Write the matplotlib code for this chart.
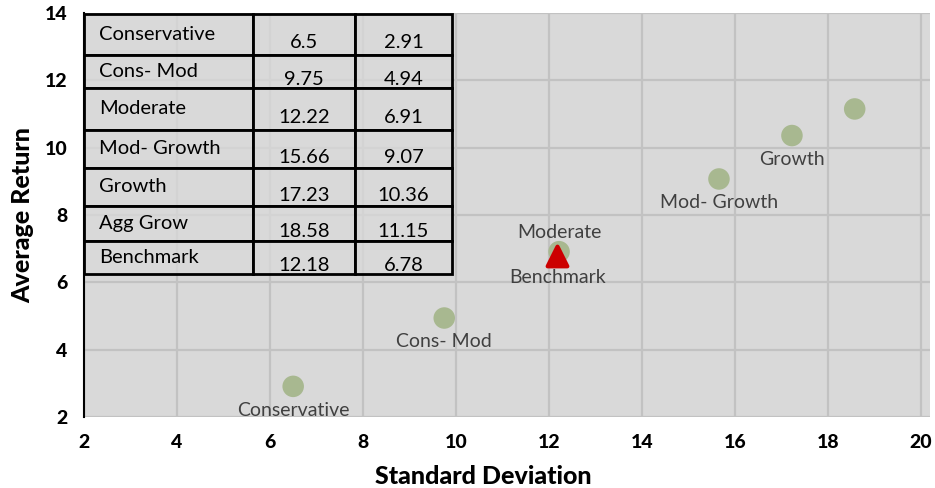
import matplotlib.pyplot as plt
import numpy as np

# portfolio data (std dev, average return)
names = ['Conservative', 'Cons- Mod', 'Moderate', 'Mod- Growth', 'Growth', 'Agg Grow']
std_dev = [6.5, 9.75, 12.22, 15.66, 17.23, 18.58]
avg_return = [2.91, 4.94, 6.91, 9.07, 10.36, 11.15]
bench_name = 'Benchmark'
bench_std = 12.18
bench_ret = 6.78

table_std = ['6.5', '9.75', '12.22', '15.66', '17.23', '18.58', '12.18']
table_ret = ['2.91', '4.94', '6.91', '9.07', '10.36', '11.15', '6.78']

# label position for each point: below / above / none
label_pos = ['below', 'below', 'above', 'below', 'below', None]

plt.rcParams['font.family'] = ['Lato', 'DejaVu Sans']

fig = plt.figure(figsize=(9.35, 4.88), dpi=100)
ax = fig.add_axes([84 / 935, 1 - 417 / 488, 846 / 935, 404 / 488])
ax.set_facecolor('#d9d9d9')
fig.patch.set_facecolor('white')

ax.set_xlim(2, 20.2)
ax.set_ylim(2, 14)
ax.set_xticks(np.arange(2, 21, 2))
ax.set_yticks(np.arange(2, 15, 2))
ax.grid(True, color='#c2c2c2', linewidth=1.6)
ax.set_axisbelow(True)
for s in ['top', 'right', 'bottom']:
    ax.spines[s].set_visible(False)
ax.spines['left'].set_color('black')
ax.spines['left'].set_linewidth(1.5)
ax.tick_params(length=0, labelsize=14, pad=12)
for lab in ax.get_xticklabels() + ax.get_yticklabels():
    lab.set_fontweight('black')

ax.scatter(std_dev, avg_return, s=240, color='#a8b890', zorder=3, edgecolors='none')
ax.scatter([bench_std], [bench_ret], s=200, marker='^', color='#cc0000', zorder=4,
           edgecolors='#cc0000', linewidths=3)

for n, x, y, p in zip(names, std_dev, avg_return, label_pos):
    if p == 'below':
        ax.annotate(n, (x, y), xytext=(0, -11), textcoords='offset points',
                    ha='center', va='top', fontsize=14, color='#404040')
    elif p == 'above':
        ax.annotate(n, (x, y), xytext=(0, 8), textcoords='offset points',
                    ha='center', va='bottom', fontsize=14, color='#404040')
ax.annotate(bench_name, (bench_std, bench_ret), xytext=(0, -9), textcoords='offset points',
            ha='center', va='top', fontsize=14, color='#404040', zorder=5)

ax.set_xlabel('Standard Deviation', fontsize=18, fontweight='black', va='center')
ax.set_ylabel('Average Return', fontsize=18, fontweight='black', va='center')
ax.xaxis.set_label_coords((483 - 84) / 846, -0.148)
ax.yaxis.set_label_coords(-0.072, 0.5)

# table in the upper left
rows = names + [bench_name]
cell_text = [[r, a, b] for r, a, b in zip(rows, table_std, table_ret)]
tbl = ax.table(cellText=cell_text, bbox=[0, 0.354, 0.435, 0.644],
               colWidths=[169, 102, 97], zorder=6)
tbl.auto_set_font_size(False)
row_h = [41, 33, 42, 38, 38, 35, 33]
for (r, c), cell in tbl.get_celld().items():
    cell.set_height(row_h[r])
    cell.set_facecolor((0.85, 0.85, 0.85, 0.75))
    cell.set_edgecolor('black')
    cell.set_linewidth(2)
    cell.get_text().set_fontsize(14.5)
    if c == 0:
        cell.get_text().set_ha('left')
        cell.PAD = 0.09
    else:
        cell.get_text().set_ha('center')
        cell.get_text().set_va('top')

fig.savefig('out.png', dpi=100)
